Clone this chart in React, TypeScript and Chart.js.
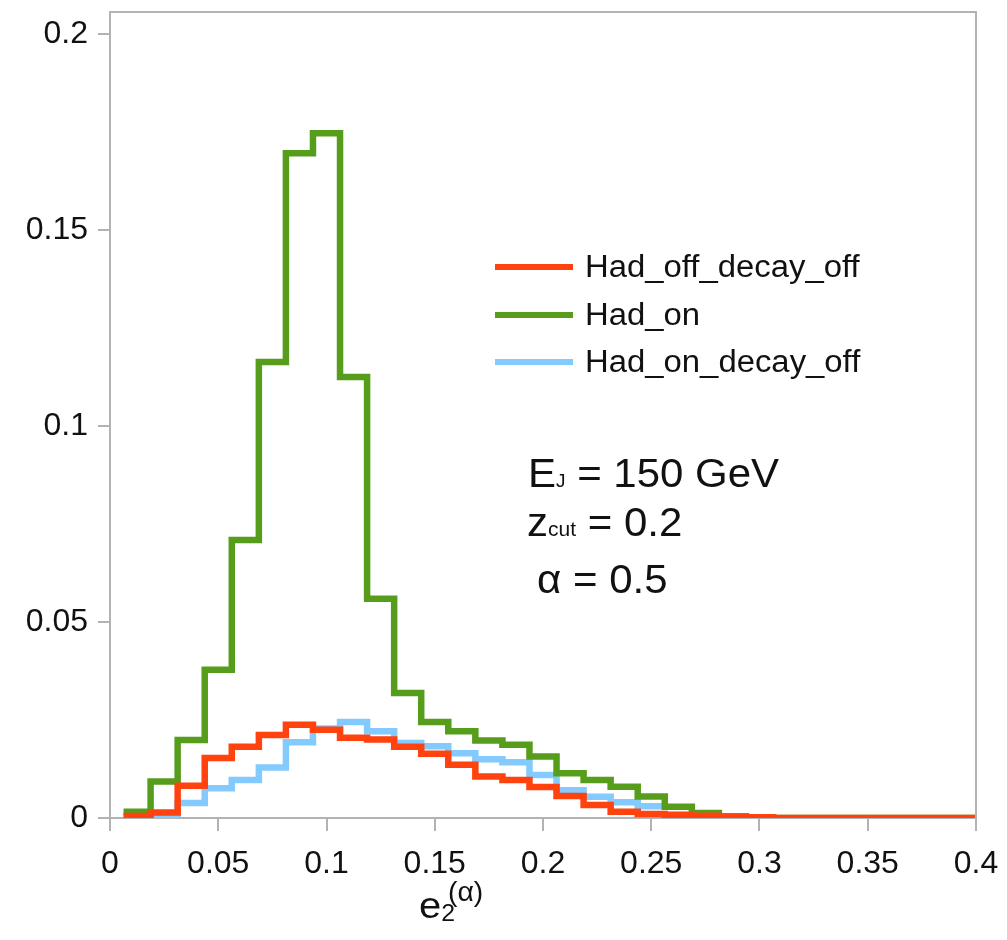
import React, { useEffect, useRef } from "react";
import { Chart, registerables } from "chart.js";

Chart.register(...registerables);

// Histogram bin edges (left edges, plus final right edge)
const BIN_EDGES = [
  0.00625, 0.01875, 0.03125, 0.04375, 0.05625, 0.06875, 0.08125, 0.09375,
  0.10625, 0.11875, 0.13125, 0.14375, 0.15625, 0.16875, 0.18125, 0.19375,
  0.20625, 0.21875, 0.23125, 0.24375, 0.25625, 0.26875, 0.28125, 0.29375,
  0.30625, 0.31875, 0.33125, 0.34375, 0.35625, 0.36875, 0.38125, 0.39375,
  0.40625,
];

const SERIES_NAMES = ["Had_off_decay_off", "Had_on", "Had_on_decay_off"];
const SERIES_COLORS = ["#ff420e", "#579d1c", "#83caff"];

const HAD_OFF_DECAY_OFF = [
  0.0005, 0.0014, 0.0082, 0.0153, 0.0182, 0.0212, 0.0238, 0.0225,
  0.0205, 0.02, 0.0182, 0.0164, 0.0136, 0.0106, 0.0097, 0.0079,
  0.0056, 0.0033, 0.0016, 0.001, 0.0008, 0.0006, 0.0004, 0.0002,
  0, 0, 0, 0, 0, 0, 0, 0,
];

const HAD_ON = [
  0.0016, 0.0093, 0.0199, 0.0378, 0.0709, 0.1163, 0.1696, 0.1747,
  0.1125, 0.0559, 0.0319, 0.0245, 0.0221, 0.0198, 0.0187, 0.0157,
  0.0114, 0.0097, 0.008, 0.0055, 0.0029, 0.0013, 0.0004, 0.0001,
  0, 0, 0, 0, 0, 0, 0, 0,
];

const HAD_ON_DECAY_OFF = [
  0.0003, 0.0008, 0.0038, 0.0076, 0.0097, 0.0129, 0.0193, 0.0228,
  0.0245, 0.0221, 0.0191, 0.0183, 0.0165, 0.015, 0.0142, 0.011,
  0.0071, 0.0054, 0.004, 0.003,
];

const X_TICKS = [0, 0.05, 0.1, 0.15, 0.2, 0.25, 0.3, 0.35, 0.4];
const Y_TICKS = [0, 0.05, 0.1, 0.15, 0.2];

const FONT = "'Liberation Sans', Arial, sans-serif";
const AXIS_GRAY = "#b3b3b3";
const TEXT_COLOR = "#111";

function toSteps(values: number[]) {
  const pts = values.map((y, i) => ({ x: BIN_EDGES[i], y }));
  pts.push({ x: BIN_EDGES[values.length], y: values[values.length - 1] });
  return pts;
}

// draws a sequence of text runs [text, size, dy] left to right; returns end x
function drawRuns(
  ctx: CanvasRenderingContext2D,
  runs: [string, number, number][],
  x: number,
  y: number,
  sx: number,
  baseline: CanvasTextBaseline = "alphabetic"
) {
  let cx = x;
  for (const [s, size, dy] of runs) {
    ctx.save();
    ctx.font = `${size}px ${FONT}`;
    const w = ctx.measureText(s).width * sx;
    ctx.translate(cx, y + dy);
    ctx.scale(sx, 1);
    ctx.textAlign = "left";
    ctx.textBaseline = baseline;
    ctx.fillStyle = TEXT_COLOR;
    ctx.fillText(s, 0, 0);
    ctx.restore();
    cx += w;
  }
  return cx;
}

const overlayPlugin = {
  id: "overlay",
  afterDraw(chart: any) {
    const ctx: CanvasRenderingContext2D = chart.ctx;
    const a = chart.chartArea;
    // frame top/right
    ctx.save();
    ctx.strokeStyle = AXIS_GRAY;
    ctx.lineWidth = 2;
    ctx.beginPath();
    ctx.moveTo(a.left, a.top);
    ctx.lineTo(a.right, a.top);
    ctx.lineTo(a.right, a.bottom);
    ctx.stroke();
    ctx.restore();

    // legend
    const rows = [267, 315, 362];
    SERIES_NAMES.forEach((name, i) => {
      ctx.save();
      ctx.strokeStyle = SERIES_COLORS[i];
      ctx.lineWidth = 6;
      ctx.beginPath();
      ctx.moveTo(495, rows[i]);
      ctx.lineTo(573, rows[i]);
      ctx.stroke();
      ctx.restore();
      drawRuns(ctx, [[name, 31, 0]], 585, rows[i] + 1, 1.06, "middle");
    });

    // annotation
    drawRuns(ctx, [["E", 40, 0], ["J", 18, 0], [" = 150 GeV", 40, 0]], 528, 487, 1.05);
    drawRuns(ctx, [["z", 40, 0], ["cut", 20, 0], [" = 0.2", 40, 0]], 527, 536, 1.05);
    drawRuns(ctx, [["\u03b1 = 0.5", 40, 0]], 537, 593, 1.05);

    // x axis title e2^(α)
    drawRuns(ctx, [["e", 37, 0], ["2", 23, 3]], 419, 918, 1.08);
    drawRuns(ctx, [["(\u03b1)", 27, 0]], 448, 901, 1.05);
  },
};

export default function App() {
  const canvasRef = useRef<HTMLCanvasElement | null>(null);

  useEffect(() => {
    if (!canvasRef.current) return;
    const series = [HAD_OFF_DECAY_OFF, HAD_ON, HAD_ON_DECAY_OFF];
    const chart = new Chart(canvasRef.current, {
      type: "line",
      data: {
        datasets: series.map((vals, i) => ({
          label: SERIES_NAMES[i],
          data: toSteps(vals),
          borderColor: SERIES_COLORS[i],
          backgroundColor: SERIES_COLORS[i],
          borderWidth: 6.5,
          pointRadius: 0,
          stepped: "before" as const,
          fill: false,
          borderJoinStyle: "miter" as const,
          borderCapStyle: "butt" as const,
        })),
      },
      options: {
        animation: false,
        responsive: false,
        maintainAspectRatio: false,
        layout: { padding: { top: 12, right: 31, left: 0, bottom: 0 } },
        plugins: {
          legend: { display: false },
          tooltip: { enabled: false },
          title: { display: false },
        },
        scales: {
          x: {
            type: "linear",
            min: 0,
            max: 0.4,
            afterBuildTicks: (scale: any) => {
              scale.ticks = X_TICKS.map((v) => ({ value: v }));
            },
            afterFit: (scale: any) => {
              scale.height = 122;
              scale.paddingLeft = 0;
              scale.paddingRight = 0;
            },
            ticks: {
              font: { family: FONT, size: 32 },
              color: TEXT_COLOR,
              padding: 14,
              maxRotation: 0,
              autoSkip: false,
              callback: (v: any) => String(Number(Number(v).toFixed(3))),
            },
            grid: {
              display: true,
              drawOnChartArea: false,
              drawTicks: true,
              tickLength: 13,
              color: AXIS_GRAY,
              lineWidth: 2,
            },
            border: { display: true, color: AXIS_GRAY, width: 2 },
          },
          y: {
            type: "linear",
            min: 0,
            max: 0.2056,
            afterBuildTicks: (scale: any) => {
              scale.ticks = Y_TICKS.map((v) => ({ value: v }));
            },
            afterFit: (scale: any) => {
              scale.width = 110;
              scale.paddingTop = 0;
              scale.paddingBottom = 0;
            },
            ticks: {
              font: { family: FONT, size: 32 },
              color: TEXT_COLOR,
              padding: 10,
              autoSkip: false,
              callback: (v: any) => String(Number(Number(v).toFixed(3))),
            },
            grid: {
              display: true,
              drawOnChartArea: false,
              drawTicks: true,
              tickLength: 12,
              color: AXIS_GRAY,
              lineWidth: 2,
            },
            border: { display: true, color: AXIS_GRAY, width: 2 },
          },
        },
      },
      plugins: [overlayPlugin],
    });
    return () => chart.destroy();
  }, []);

  return (
    <div
      style={{
        position: "absolute",
        left: 0,
        top: 0,
        width: 1007,
        height: 940,
        background: "#fff",
      }}
    >
      <canvas ref={canvasRef} width={1007} height={940} />
    </div>
  );
}
